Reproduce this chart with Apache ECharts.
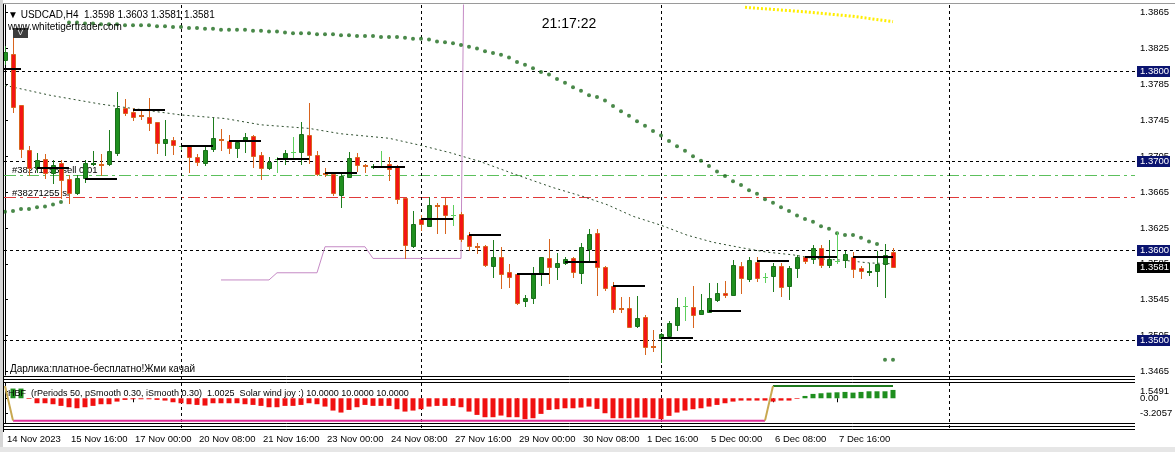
<!DOCTYPE html>
<html><head><meta charset="utf-8">
<script src="https://cdn.jsdelivr.net/npm/echarts@6/dist/echarts.min.js"></script>
<style>html,body{margin:0;padding:0;background:#fff}#c{width:1175px;height:452px}</style>
</head><body><div id="c"></div>
<script>
// ---------- DATA ----------
const opens = [1.3812,1.3819,1.3762,1.3712,1.3692,1.3702,1.3686,1.3697,1.3680,1.3664,1.3681,1.3696,1.3696,1.3696,1.3709,1.3759,1.3754,1.3751,1.3749,1.3743,1.3720,1.3723,1.3716,1.3716,1.3704,1.3697,1.3713,1.3724,1.3722,1.3714,1.3722,1.3728,1.3706,1.3692,1.3702,1.3703,1.3710,1.3710,1.3729,1.3706,1.3686,1.3685,1.3662,1.3682,1.3704,1.3695,1.3693,1.3694,1.3696,1.3693,1.3658,1.3605,1.3635,1.3627,1.3651,1.3651,1.3639,1.3641,1.3617,1.3605,1.3605,1.3583,1.3593,1.3576,1.3574,1.3544,1.3547,1.3575,1.3591,1.3581,1.3586,1.3591,1.3575,1.3601,1.3619,1.3581,1.3560,1.3536,1.3536,1.3516,1.3526,1.3493,1.3502,1.3504,1.3517,1.3538,1.3537,1.3529,1.3531,1.3545,1.3552,1.3550,1.3583,1.3568,1.3587,1.3570,1.3571,1.3583,1.3560,1.3580,1.3593,1.3590,1.3603,1.3584,1.3588,1.3589,1.3593,1.3580,1.3576,1.3577,1.3585,1.3598];
const highs = [1.3828,1.3846,1.3762,1.3716,1.3709,1.3707,1.3701,1.3701,1.3684,1.3684,1.3701,1.3711,1.3707,1.3734,1.3777,1.3769,1.3759,1.3757,1.3770,1.3743,1.3745,1.3726,1.3718,1.3717,1.3707,1.3716,1.3748,1.3735,1.3729,1.3722,1.3731,1.3729,1.3710,1.3704,1.3704,1.3712,1.3726,1.3743,1.3764,1.3711,1.3692,1.3685,1.3685,1.3710,1.3709,1.3696,1.3696,1.3711,1.3704,1.3695,1.3658,1.3644,1.3639,1.3660,1.3653,1.3658,1.3651,1.3643,1.3620,1.3608,1.3606,1.3612,1.3604,1.3585,1.3575,1.3550,1.3581,1.3593,1.3613,1.3597,1.3593,1.3593,1.3608,1.3624,1.3624,1.3583,1.3565,1.3548,1.3548,1.3549,1.3528,1.3511,1.3508,1.3521,1.3547,1.3548,1.3560,1.3551,1.3564,1.3564,1.3566,1.3589,1.3587,1.3593,1.3593,1.3575,1.3586,1.3586,1.3583,1.3595,1.3594,1.3606,1.3606,1.3612,1.3620,1.3599,1.3598,1.3583,1.3586,1.3599,1.3607,1.3603];
const lows = [1.3808,1.3754,1.3704,1.3684,1.3687,1.3681,1.3675,1.3658,1.3653,1.3663,1.3676,1.3695,1.3684,1.3695,1.3706,1.3751,1.3745,1.3747,1.3734,1.3709,1.3706,1.3707,1.3713,1.3687,1.3695,1.3695,1.3711,1.3712,1.3709,1.3704,1.3710,1.3693,1.3680,1.3691,1.3687,1.3696,1.3703,1.3696,1.3697,1.3684,1.3683,1.3662,1.3648,1.3682,1.3688,1.3687,1.3692,1.3693,1.3678,1.3653,1.3591,1.3604,1.3623,1.3627,1.3619,1.3619,1.3628,1.3610,1.3600,1.3597,1.3583,1.3570,1.3558,1.3559,1.3540,1.3538,1.3541,1.3561,1.3564,1.3568,1.3585,1.3570,1.3564,1.3587,1.3550,1.3556,1.3531,1.3531,1.3514,1.3515,1.3484,1.3488,1.3475,1.3503,1.3511,1.3522,1.3515,1.3529,1.3531,1.3544,1.3548,1.3550,1.3552,1.3566,1.3566,1.3565,1.3555,1.3549,1.3546,1.3570,1.3586,1.3586,1.3581,1.3581,1.3586,1.3581,1.3570,1.3569,1.3573,1.3560,1.3548,1.3581];
const closes = [1.3821,1.3760,1.3713,1.3692,1.3701,1.3686,1.3695,1.3678,1.3664,1.3681,1.3697,1.3697,1.3695,1.3711,1.3759,1.3753,1.3749,1.3750,1.3742,1.3720,1.3724,1.3717,1.3716,1.3704,1.3699,1.3712,1.3725,1.3723,1.3714,1.3721,1.3726,1.3705,1.3692,1.3699,1.3702,1.3709,1.3710,1.3730,1.3706,1.3685,1.3685,1.3664,1.3683,1.3703,1.3695,1.3694,1.3694,1.3694,1.3691,1.3657,1.3606,1.3629,1.3629,1.3651,1.3650,1.3639,1.3639,1.3613,1.3605,1.3604,1.3584,1.3593,1.3574,1.3570,1.3541,1.3547,1.3574,1.3593,1.3581,1.3586,1.3590,1.3576,1.3604,1.3618,1.3581,1.3558,1.3535,1.3535,1.3515,1.3525,1.3492,1.3492,1.3507,1.3519,1.3537,1.3538,1.3528,1.3533,1.3547,1.3552,1.3550,1.3584,1.3569,1.3589,1.3569,1.3570,1.3583,1.3559,1.3580,1.3593,1.3588,1.3603,1.3584,1.3590,1.3588,1.3596,1.3579,1.3577,1.3577,1.3585,1.3595,1.3581];

// daily open levels (start bar, end bar, price)
const dayStart = [-2,4,10,16,22,28,34,40,46,52,58,64,70,76,82,88,94,100,106];
const dayEnd   = [2,8,14,20,26,32,38,44,50,56,62,68,74,80,86,92,98,104,111];
const dayLevel = [1.3802,1.3692,1.3680,1.3757,1.3716,1.3722,1.3702,1.3686,1.3693,1.3635,1.3617,1.3574,1.3587,1.3560,1.3502,1.3532,1.3588,1.3593,1.3593];

// parabolic-like dotted indicator, one value per bar
const sarValues = [1.3643,1.3644,1.3646,1.3646,1.3648,1.3649,1.3651,1.3654,
 1.3854,1.3854,1.3853,1.3853,1.3852,1.3852,1.3852,1.3851,1.3851,1.3851,1.3851,1.3850,1.3850,1.3849,1.3849,1.3848,1.3848,1.3847,1.3847,1.3846,1.3846,1.3846,1.3846,1.3845,1.3845,1.3844,1.3844,1.3843,1.3842,
 1.3842,1.3842,1.3841,1.3841,1.3841,1.3840,1.3840,1.3839,1.3839,1.3839,1.3838,1.3838,1.3838,1.3837,1.3836,1.3836,1.3835,1.3833,1.3832,1.3831,1.3829,1.3827,1.3825,1.3822,1.3820,1.3818,1.3815,1.3810,1.3807,1.3803,1.3799,1.3796,1.3791,1.3787,1.3782,1.3778,1.3773,1.3771,
 1.3767,1.3761,1.3755,1.3750,1.3744,1.3739,1.3733,1.3728,1.3722,1.3716,1.3711,1.3705,1.3700,1.3694,1.3688,1.3683,
 1.3677,1.3673,1.3667,1.3663,1.3657,1.3653,1.3648,1.3644,1.3639,1.3635,1.3632,1.3627,1.3624,1.3619,1.3617,1.3617,1.3614,1.3610,1.3607,
 1.3478,1.3478];

// thin dotted moving average (bar, price)
const maBars   = [0,5.6,12,22,27.5,32,38,42,48,52,55.6,59.4,64,68.5,72.25,75.25,78.5,82,85.25,88.5,92,95.25,98.5,101,104.75,108,111];
const maValues = [1.3784,1.3773,1.3763,1.3751,1.3747,1.3740,1.3736,1.3730,1.3725,1.3717,1.3709,1.3699,1.3684,1.3670,1.3660,1.3651,1.3638,1.3628,1.3617,1.3609,1.3603,1.3598,1.3595,1.3591,1.3589,1.3586,1.3585];

// lilac channel line (bar, price)
const pinkBars   = [27,33,34,39,40,45,46,57,58];
const pinkValues = [1.3567,1.3567,1.3575,1.3575,1.3604,1.3604,1.3591,1.3591,1.4500];

// yellow dotted line (bar, price)
const yellowBars   = [92.5,100,106,111];
const yellowValues = [1.3871,1.3866,1.3861,1.3855];

// indicator histogram (one per bar)
const histValues = [0,2.1,2.1,-0.15,-1.08,-1.08,-1.29,-1.65,-1.94,-2.16,-1.94,-1.65,-1.29,-1.29,-0.72,-0.36,-0.22,-0.22,-0.22,-0.36,-0.50,-0.86,-1.08,-1.29,-1.44,-1.58,-1.08,-1.08,-1.08,-1.08,-1.29,-1.44,-1.65,-1.94,-1.94,-1.65,-1.65,-1.44,-1.08,-1.29,-1.80,-2.66,-3.09,-2.52,-1.94,-1.44,-1.65,-1.65,-1.65,-2.37,-2.88,-2.66,-2.37,-1.80,-1.65,-1.65,-1.65,-1.94,-2.88,-3.60,-4.10,-4.10,-3.74,-4.10,-4.10,-4.53,-4.32,-3.38,-2.52,-2.37,-2.16,-2.16,-2.01,-1.80,-2.30,-3.24,-4.32,-4.32,-4.32,-4.17,-4.17,-4.32,-4.53,-3.81,-3.09,-2.66,-2.37,-2.16,-1.80,-1.44,-1.08,-0.72,-0.50,-0.50,-0.50,-0.50,-0.72,-0.50,-0.50,-0.14,0.50,0.94,1.08,1.22,1.29,1.37,1.22,1.37,1.51,1.51,1.51,1.80];
// indicator signal line levels
const sigLow = -4.84, sigHigh = 2.66;
const sigLowBars = [1,95];
const sigHighBars = [96,111];

// axes
const priceTicks = [1.3465,1.3505,1.3545,1.3585,1.3625,1.3665,1.3705,1.3745,1.3785,1.3825,1.3865];
const indTicks = [1.5491,0,-3.2057];
const indTickText = ['1.5491','0.00','-3.2057'];
const tickBars = [0,8,16,24,32,40,48,56,64,72,80,88,96,104];
const tickLabels = ['14 Nov 2023','15 Nov 16:00','17 Nov 00:00','20 Nov 08:00','21 Nov 16:00','23 Nov 00:00','24 Nov 08:00','27 Nov 16:00','29 Nov 00:00','30 Nov 08:00','1 Dec 16:00','5 Dec 00:00','6 Dec 08:00','7 Dec 16:00'];
const separatorBars = [22,52,82,118];
const roundLevels = [1.3800,1.3700,1.3600,1.3500];
const orderOpen = 1.3684, orderSL = 1.36595, lastPrice = 1.3581;
const headerText = '\u25BC USDCAD,H4  1.3598 1.3603 1.3581 1.3581';

// ---------- CHART ----------
const FONT = 'Liberation Sans';
const chart = echarts.init(document.getElementById('c'), null, {renderer:'canvas', width:1175, height:452});

const candleData = opens.map((o,i)=>[i,o,highs[i],lows[i],closes[i]]);
function renderCandle(params, api){
  const i=api.value(0), o=api.value(1), h=api.value(2), l=api.value(3), c=api.value(4);
  const pO=api.coord([i,o]), pC=api.coord([i,c]), pH=api.coord([i,h]), pL=api.coord([i,l]);
  const n=Math.round(pO[0]); const cx=n+0.5;
  let wick, fill, stroke;
  if(c>o){wick='#1d7d1d';fill='#1f8f1f';stroke='#1a6e1a';}
  else if(c<o){wick='#d8641e';fill='#f41414';stroke='#d8641e';}
  else {wick='#5ccf5c';fill='#5ccf5c';stroke='#5ccf5c';}
  const top=Math.round(Math.min(pO[1],pC[1])), bot=Math.round(Math.max(pO[1],pC[1]));
  const ch=[{type:'line',shape:{x1:cx,y1:Math.round(pH[1]),x2:cx,y2:Math.round(pL[1])+1},style:{stroke:wick,lineWidth:1}}];
  if(bot-top<2){
    ch.push({type:'line',shape:{x1:n-2,y1:top+0.5,x2:n+3,y2:top+0.5},style:{stroke:stroke,lineWidth:1}});
    if(bot-top==1) ch.push({type:'line',shape:{x1:n-2,y1:bot+0.5,x2:n+3,y2:bot+0.5},style:{stroke:stroke,lineWidth:1}});
  } else {
    ch.push({type:'rect',shape:{x:n-1.5,y:top+0.5,width:4,height:bot-top},style:{fill:fill,stroke:stroke,lineWidth:1}});
  }
  return {type:'group',children:ch};
}
const dayData = dayStart.map((s,k)=>[s,dayEnd[k],dayLevel[k]]);
function renderDay(params, api){
  const a=api.coord([api.value(0),api.value(2)]), b=api.coord([api.value(1),api.value(2)]);
  const cs=params.coordSys; const x1=Math.max(a[0],cs.x);
  const y=Math.round(a[1]);
  return {type:'line',shape:{x1:x1,y1:y,x2:b[0],y2:y},style:{stroke:'#000',lineWidth:2}};
}

const option = {
  animation:false,
  backgroundColor:'#ffffff',
  textStyle:{fontFamily:FONT},
  grid:[{left:4,right:40,top:5,height:370},{left:4,right:40,top:383,height:40}],
  xAxis:[
    {type:'value',gridIndex:0,min:-0.125,max:141.25,axisLine:{show:false},axisTick:{show:false},axisLabel:{show:false},splitLine:{show:false}},
    {type:'value',gridIndex:1,min:-0.125,max:141.25,position:'bottom',offset:6,
     axisLine:{show:false},
     axisTick:{show:true,customValues:tickBars,length:4,lineStyle:{color:'#000'}},
     axisLabel:{show:true,customValues:tickBars,formatter:v=>tickLabels[tickBars.indexOf(Math.round(v))]||'',align:'left',margin:5,fontSize:9.5,color:'#000',fontFamily:FONT,padding:[0,0,0,2]},
     splitLine:{show:false}}
  ],
  yAxis:[
    {type:'value',gridIndex:0,position:'right',min:1.3461,max:1.38736,
     axisLine:{show:true,lineStyle:{color:'#000'}},
     axisTick:{show:true,customValues:priceTicks,length:3,lineStyle:{color:'#000'}},
     axisLabel:{customValues:priceTicks,formatter:v=>v.toFixed(4),margin:5,fontSize:9.5,color:'#000',fontFamily:FONT},
     splitLine:{show:false}},
    {type:'value',gridIndex:1,position:'right',min:-5.35,max:3.3,
     axisLine:{show:true,lineStyle:{color:'#000'}},
     axisTick:{show:true,customValues:indTicks,length:3,lineStyle:{color:'#000'}},
     axisLabel:{show:false},
     splitLine:{show:false}}
  ],
  series:[
    {type:'line',xAxisIndex:0,yAxisIndex:0,data:maBars.map((b,k)=>[b,maValues[k]]),showSymbol:false,z:2,
     lineStyle:{color:'#2f4f2f',width:1,type:[2,3]}},
    {type:'line',xAxisIndex:0,yAxisIndex:0,data:pinkBars.map((b,k)=>[b,pinkValues[k]]),showSymbol:false,z:2,clip:true,
     lineStyle:{color:'#c58ac5',width:1}},
    {type:'line',xAxisIndex:0,yAxisIndex:0,data:yellowBars.map((b,k)=>[b,yellowValues[k]]),showSymbol:false,z:2,
     lineStyle:{color:'#ffee00',width:3,type:[2,2]}},
    {type:'scatter',xAxisIndex:0,yAxisIndex:0,data:sarValues.map((v,i)=>[i,v]),symbol:'circle',symbolSize:4,z:3,
     itemStyle:{color:'#1d6b1d'}},
    {type:'custom',xAxisIndex:0,yAxisIndex:0,data:candleData,renderItem:renderCandle,z:5,encode:{x:0,y:[1,2,3,4]}},
    {type:'custom',xAxisIndex:0,yAxisIndex:0,data:dayData,renderItem:renderDay,z:6,encode:{x:[0,1],y:2}},
    {type:'bar',xAxisIndex:1,yAxisIndex:1,data:histValues.map((v,i)=>[i,v]),barWidth:5,z:2,
     itemStyle:{color:p=>p.value[1]>=0?'#1f8f1f':'#f01010'}},
    {type:'line',xAxisIndex:1,yAxisIndex:1,data:[[sigLowBars[0],sigLow],[sigLowBars[1],sigLow]],showSymbol:false,z:3,lineStyle:{color:'#e0309a',width:2}},
    {type:'line',xAxisIndex:1,yAxisIndex:1,data:[[sigHighBars[0],sigHigh],[sigHighBars[1],sigHigh]],showSymbol:false,z:3,lineStyle:{color:'#1e7a1e',width:2}},
    {type:'line',xAxisIndex:1,yAxisIndex:1,data:[[0,sigHigh],[sigLowBars[0],sigLow]],showSymbol:false,z:3,lineStyle:{color:'#c8a850',width:2}},
    {type:'line',xAxisIndex:1,yAxisIndex:1,data:[[sigLowBars[1],sigLow],[sigHighBars[0],sigHigh]],showSymbol:false,z:3,lineStyle:{color:'#c8a850',width:2}}
  ]
};
chart.setOption(option);

// ---------- overlays positioned through the axes ----------
const yP = v=>chart.convertToPixel({yAxisIndex:0},v);
const yI = v=>chart.convertToPixel({yAxisIndex:1},v);
const xB = v=>chart.convertToPixel({xAxisIndex:0},v);
const F = s=>s+'px "'+FONT+'"';
const g = [];
// window frame
g.push({type:'rect',shape:{x:0,y:0,width:3,height:452},style:{fill:'#d6d6d6'},z:50});
g.push({type:'rect',shape:{x:0,y:447,width:1175,height:5},style:{fill:'#e6e6e6'},z:50});
g.push({type:'line',shape:{x1:3,y1:3.5,x2:1175,y2:3.5},style:{stroke:'#9a9a9a',lineWidth:1},z:50});
g.push({type:'line',shape:{x1:3.5,y1:4,x2:3.5,y2:432},style:{stroke:'#000',lineWidth:1},z:50});
[376.5,379.5,382.5,423.5,426.5,429.5].forEach(y=>g.push({type:'line',shape:{x1:4,y1:y,x2:1135,y2:y},style:{stroke:'#000',lineWidth:1},z:50}));
// horizontal price levels
roundLevels.forEach(v=>{const y=Math.round(yP(v))+0.5;g.push({type:'line',shape:{x1:4,y1:y,x2:1135,y2:y},style:{stroke:'#000',lineWidth:1,lineDash:[3,3]},z:1});});
{const y=Math.round(yP(orderOpen))+0.5;g.push({type:'line',shape:{x1:4,y1:y,x2:1135,y2:y},style:{stroke:'#5cc05c',lineWidth:1,lineDash:[12,4,3,4]},z:1});}
{const y=Math.round(yP(orderSL))+0.5;g.push({type:'line',shape:{x1:4,y1:y,x2:1135,y2:y},style:{stroke:'#e03a3a',lineWidth:1,lineDash:[12,4,3,4]},z:1});}
// period separators
separatorBars.forEach(b=>{const x=Math.round(xB(b))+0.5;g.push({type:'line',shape:{x1:x,y1:5,x2:x,y2:430},style:{stroke:'#000',lineWidth:1,lineDash:[3,3]},z:1});});
// indicator axis labels
indTicks.forEach((v,k)=>g.push({type:'text',x:1140,y:Math.round(yI(v)),style:{text:indTickText[k],fill:'#000',font:F(9.5),textVerticalAlign:'middle'},z:60}));
// price boxes
roundLevels.forEach(v=>{const y=Math.round(yP(v));
  g.push({type:'rect',shape:{x:1137,y:y-5,width:33,height:11},style:{fill:'#0b1470'},z:100});
  g.push({type:'text',x:1140,y:y+0.5,style:{text:v.toFixed(4),fill:'#fff',font:F(9.5),textVerticalAlign:'middle'},z:101});
});
{const y=Math.round(yP(lastPrice));
  g.push({type:'rect',shape:{x:1137,y:y-5,width:33,height:11},style:{fill:'#000'},z:100});
  g.push({type:'text',x:1140,y:y+0.5,style:{text:lastPrice.toFixed(4),fill:'#fff',font:F(9.5),textVerticalAlign:'middle'},z:101});}
// order labels (under candles)
g.push({type:'text',x:12,y:Math.round(yP(orderOpen))-5,style:{text:'#38271255 sell 0.01',fill:'#000',font:F(9.5),textVerticalAlign:'middle'},z:0});
g.push({type:'text',x:12,y:Math.round(yP(orderSL))-4,style:{text:'#38271255 sl',fill:'#000',font:F(9.5),textVerticalAlign:'middle'},z:0});
// header texts
g.push({type:'text',x:8,y:15,style:{text:headerText,fill:'#000',font:F(10),textVerticalAlign:'middle'},z:60});
g.push({type:'rect',shape:{x:13,y:28,width:15,height:10},style:{fill:'#3c3c3c'},z:60});
g.push({type:'text',x:20.5,y:33,style:{text:'V',fill:'#eee',font:F(8),textAlign:'center',textVerticalAlign:'middle'},z:61});
g.push({type:'text',x:8,y:27,style:{text:'www.whitetigertrader.com',fill:'#000',font:F(10),textVerticalAlign:'middle'},z:62});
g.push({type:'text',x:569,y:24,style:{text:'21:17:22',fill:'#000',font:F(14),textAlign:'center',textVerticalAlign:'middle'},z:60});
g.push({type:'text',x:10,y:369,style:{text:'Дарлика:платное-бесплатно!Жми качай',fill:'#000',font:F(10),textVerticalAlign:'middle'},z:60});
g.push({type:'text',x:8,y:394,style:{text:'HBF  (rPeriods 50, pSmooth 0.30, iSmooth 0.30)  1.0025  Solar wind joy :) 10.0000 10.0000 10.0000',fill:'#000',font:F(9),textVerticalAlign:'middle'},z:60});
chart.setOption({graphic:g});
</script></body></html>
